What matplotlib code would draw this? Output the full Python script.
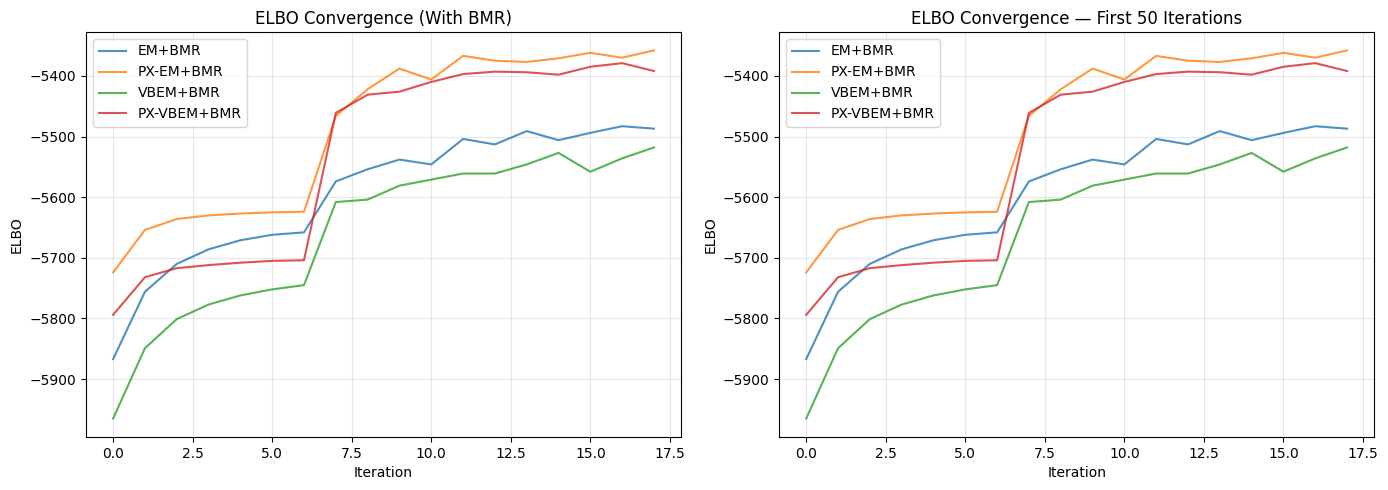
import matplotlib
matplotlib.use("Agg")
import matplotlib.pyplot as plt
import numpy as np

iterations = np.arange(18)
em_bmr = [-5867, -5756, -5710, -5686, -5671, -5662, -5658, -5574, -5554, -5538,
          -5546, -5504, -5513, -5491, -5506, -5494, -5483, -5487]
px_em_bmr = [-5724, -5654, -5636, -5630, -5627, -5625, -5624, -5466, -5422, -5388,
             -5406, -5367, -5375, -5377, -5371, -5362, -5370, -5358]
vbem_bmr = [-5965, -5849, -5801, -5777, -5762, -5752, -5745, -5608, -5604, -5581,
            -5571, -5561, -5561, -5546, -5527, -5558, -5536, -5518]
px_vbem_bmr = [-5794, -5732, -5717, -5712, -5708, -5705, -5704, -5461, -5431, -5426,
               -5410, -5397, -5393, -5394, -5398, -5385, -5379, -5392]

series = [("EM+BMR", em_bmr), ("PX-EM+BMR", px_em_bmr),
          ("VBEM+BMR", vbem_bmr), ("PX-VBEM+BMR", px_vbem_bmr)]
titles = ["ELBO Convergence (With BMR)", "ELBO Convergence \u2014 First 50 Iterations"]

fig, axes = plt.subplots(1, 2, figsize=(13.88, 4.9), dpi=100)
for ax, title in zip(axes, titles):
    for label, vals in series:
        ax.plot(iterations[:50], vals[:50], label=label, alpha=0.8)
    ax.set_xlabel("Iteration")
    ax.set_ylabel("ELBO")
    ax.set_title(title)
    ax.legend(loc="upper left")
    ax.grid(True, alpha=0.3)

fig.subplots_adjust(left=0.062, right=0.99, top=0.9347, bottom=0.1082, wspace=0.165)
fig.savefig("out.png")
